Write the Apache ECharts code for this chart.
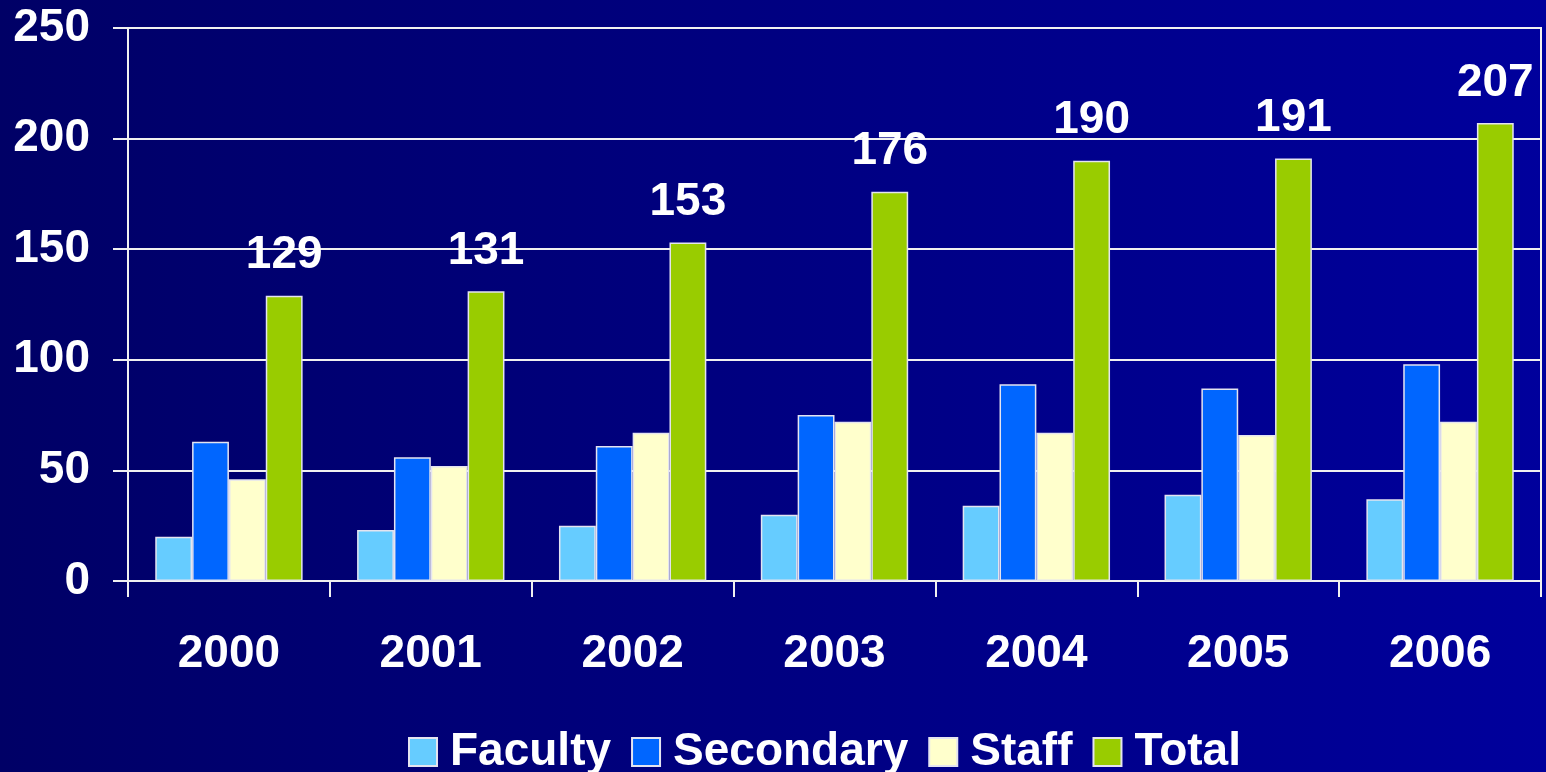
<!DOCTYPE html>
<html>
<head>
<meta charset="utf-8">
<script src="https://cdn.jsdelivr.net/npm/echarts@6/dist/echarts.min.js"></script>
<style>
  html, body { margin: 0; padding: 0; }
  #chart { width: 1546px; height: 772px; }
</style>
</head>
<body>
<div id="chart"></div>
<script>
const years = ['2000', '2001', '2002', '2003', '2004', '2005', '2006'];
const faculty = [20, 23, 25, 30, 34, 39, 37];
const secondary = [63, 56, 61, 75, 89, 87, 98];
const staff = [46, 52, 67, 72, 67, 66, 72];
const total = [129, 131, 153, 176, 190, 191, 207];

const font = '"Liberation Sans", Arial, sans-serif';
const lineWhite = '#f0f0f0';
const barBorder = '#e4e4f0';

const chart = echarts.init(document.getElementById('chart'));

const makeSeries = (name, data, color, withLabel) => ({
    name: name,
    type: 'bar',
    data: data,
    barGap: '0%',
    barCategoryGap: '27%',
    itemStyle: { color: color, borderColor: barBorder, borderWidth: 1.5 },
    label: withLabel ? {
        show: true, position: 'top', distance: 17,
        color: '#ffffff', fontFamily: font, fontWeight: 'bold', fontSize: 46
    } : { show: false },
    animation: false
});

chart.setOption({
    backgroundColor: {
        type: 'linear', x: 0, y: 0, x2: 1, y2: 0,
        colorStops: [{ offset: 0, color: '#000066' }, { offset: 1, color: '#00009c' }]
    },
    animation: false,
    grid: { left: 128, right: 5, top: 28, bottom: 191, show: true, borderColor: lineWhite, borderWidth: 2 },
    legend: {
        left: 403, top: 724,
        itemWidth: 28, itemHeight: 28, itemGap: 20,
        icon: 'rect',
        textStyle: { color: '#ffffff', fontFamily: font, fontWeight: 'bold', fontSize: 46, padding: [0, 0, 0, 8] },
        data: ['Faculty', 'Secondary', 'Staff', 'Total']
    },
    xAxis: {
        type: 'category',
        data: years,
        axisLine: { show: true, lineStyle: { color: lineWhite, width: 2 } },
        axisTick: { show: true, length: 16, lineStyle: { color: lineWhite, width: 2 } },
        axisLabel: { color: '#ffffff', fontFamily: font, fontWeight: 'bold', fontSize: 46, margin: 50 }
    },
    yAxis: {
        type: 'value',
        min: 0, max: 250, interval: 50,
        axisLine: { show: true, lineStyle: { color: lineWhite, width: 2 } },
        axisTick: { show: true, length: 15, lineStyle: { color: lineWhite, width: 2 } },
        splitLine: { show: true, lineStyle: { color: lineWhite, width: 2 } },
        axisLabel: { color: '#ffffff', fontFamily: font, fontWeight: 'bold', fontSize: 46, margin: 38 }
    },
    series: [
        makeSeries('Faculty', faculty, '#66ccff', false),
        makeSeries('Secondary', secondary, '#0066ff', false),
        makeSeries('Staff', staff, '#ffffcc', false),
        makeSeries('Total', total, '#99cc00', true)
    ]
});
</script>
</body>
</html>
